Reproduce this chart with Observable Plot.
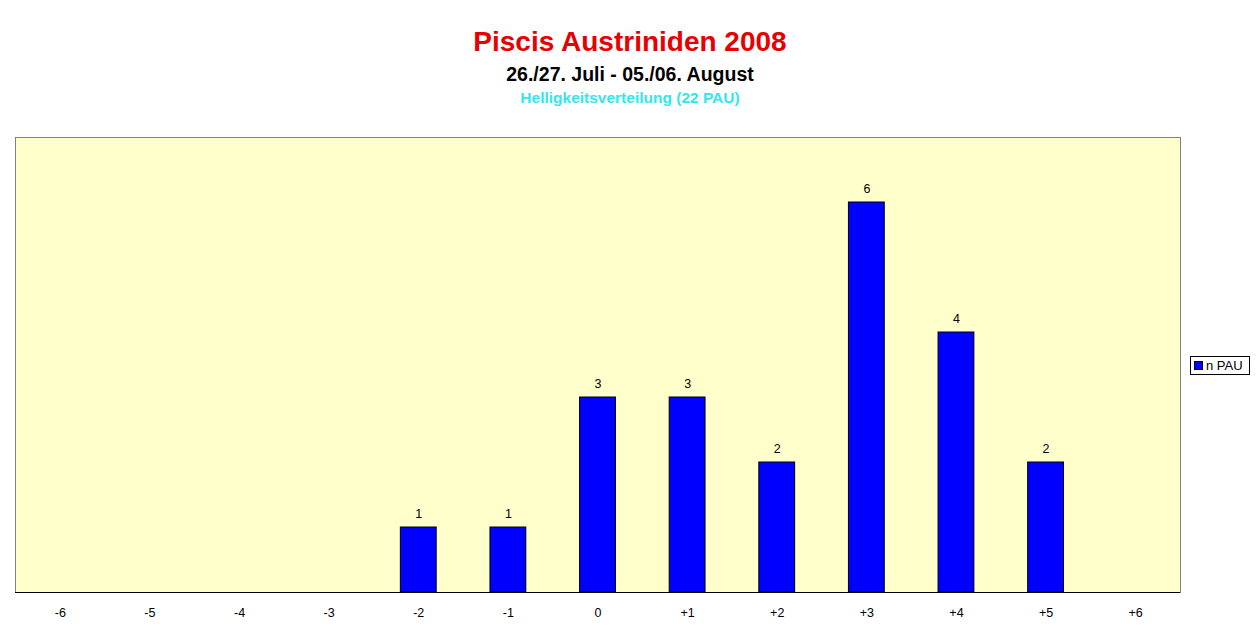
<!DOCTYPE html>
<html>
<head>
<meta charset="utf-8">
<script src="https://cdn.jsdelivr.net/npm/d3@7"></script>
<script src="https://cdn.jsdelivr.net/npm/@observablehq/plot@0.6"></script>
<style>
  body { margin: 0; background: #ffffff; font-family: "Liberation Sans", Arial, sans-serif; }
  #wrap { position: relative; width: 1260px; height: 639px; overflow: hidden; }
  #head { position: absolute; left: 0; top: 0; width: 1260px; height: 120px; text-align: center; }
  .t1 { position: absolute; left: 0; width: 1260px; top: 26px; font-size: 28px; font-weight: bold; color: #e80000; }
  .t2 { position: absolute; left: 0; width: 1260px; top: 63px; font-size: 19.5px; font-weight: bold; color: #000000; }
  .t3 { position: absolute; left: 0; width: 1260px; top: 89px; font-size: 15.5px; font-weight: bold; color: #33e6f0; }
  #chart { position: absolute; left: 0; top: 120px; }
  #legend { position: absolute; left: 1190px; top: 356px; width: 60px; height: 19px; border: 1px solid #000; background: #fff;
            font-size: 13px; line-height: 17px; box-sizing: border-box; white-space: nowrap; }
  #legend .sw { display: inline-block; width: 7px; height: 7px; background: #0000ff; border: 1px solid #000; margin: 0 3px 0 3px; vertical-align: 0px; }
</style>
</head>
<body>
<div id="wrap">
  <div id="head">
    <div class="t1">Piscis Austriniden 2008</div>
    <div class="t2">26./27. Juli - 05./06. August</div>
    <div class="t3">Helligkeitsverteilung (22 PAU)</div>
  </div>
  <div id="chart"></div>
  <div id="legend"><span class="sw"></span>n PAU</div>
</div>
<script>
const categories = ["-6", "-5", "-4", "-3", "-2", "-1", "0", "+1", "+2", "+3", "+4", "+5", "+6"];
const values = [0, 0, 0, 0, 1, 1, 3, 3, 2, 6, 4, 2, 0];
const seriesName = "n PAU";

const data = categories.map((c, i) => ({cat: c, n: values[i]}));
const nonZero = data.filter(d => d.n > 0);

const plot = Plot.plot({
  width: 1260,
  height: 519,
  marginLeft: 15,
  marginRight: 80,
  marginTop: 17,
  marginBottom: 47,
  style: {fontFamily: "'Liberation Sans', Arial, sans-serif", fontSize: "12px", background: "transparent"},
  x: {domain: categories, paddingInner: 0.6, paddingOuter: 0.3, round: false, label: null},
  y: {domain: [0, 7], axis: null},
  marks: [
    Plot.frame({fill: "#ffffcc", stroke: "#808080"}),
    Plot.barY(nonZero, {x: "cat", y: "n", fill: "#0000ff", stroke: "#000000", strokeWidth: 1}),
    Plot.ruleY([0], {stroke: "#000000"}),
    Plot.text(nonZero, {x: "cat", y: "n", text: d => String(d.n), dy: -14, fill: "#000000", fontSize: 12.5}),
    Plot.axisX({tickSize: 0, tickPadding: 16, fontSize: 12.5, color: "#000000", label: null})
  ]
});
document.getElementById("chart").appendChild(plot);
</script>
</body>
</html>
